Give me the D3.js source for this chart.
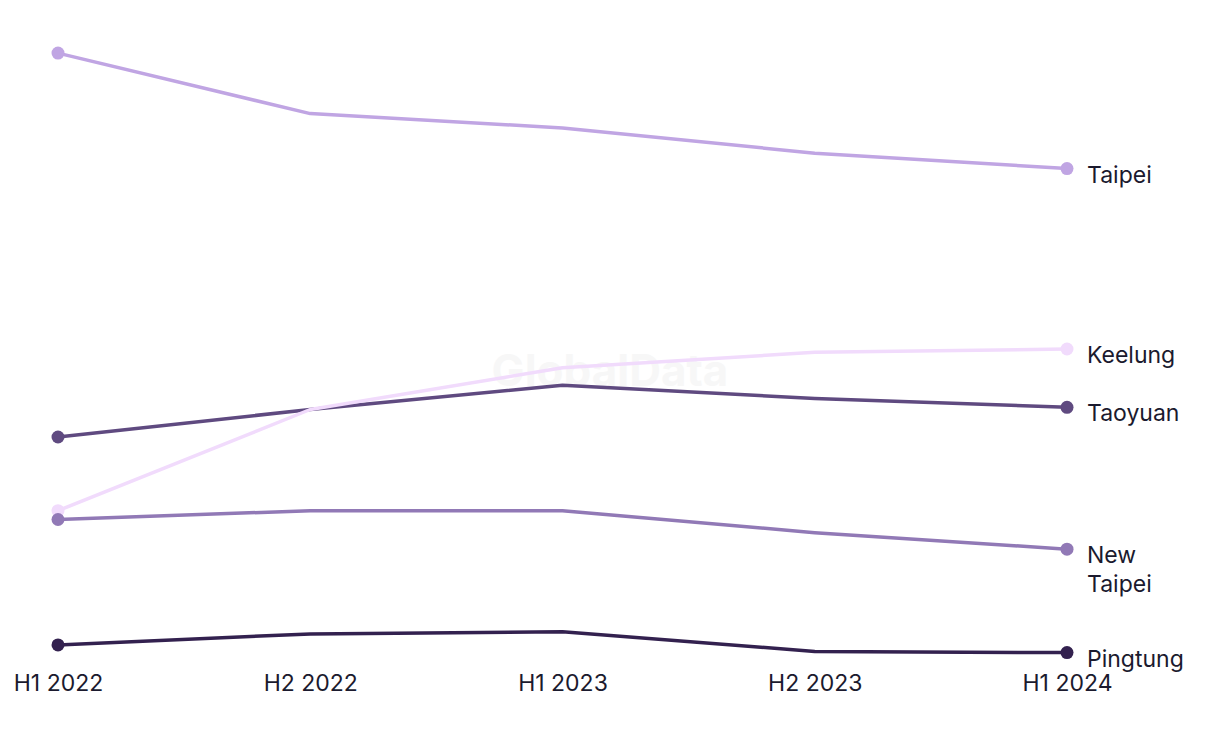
<html>
<script src="https://d3js.org/d3.v7.min.js"></script>
<style>
  body { margin: 0; background: #fff; }
  .lbl { font-family: Inter, "Noto Sans", sans-serif; font-size: 23px; fill: #1b1a2e; }
</style>
<body>
<svg id="chart" width="1220" height="744"></svg>
<script>
var periods = ["H1 2022", "H2 2022", "H1 2023", "H2 2023", "H1 2024"];
var taipei    = [57.9, 52.4, 51.1, 48.8, 47.4];
var keelung   = [16.3, 25.5, 29.3, 30.7, 31.0];
var taoyuan   = [23.0, 25.5, 27.7, 26.5, 25.7];
var newTaipei = [15.5, 16.3, 16.3, 14.3, 12.8];
var pingtung  = [4.1, 5.1, 5.3, 3.5, 3.4];

var series = [
  {name: ["Taipei"], values: taipei, color: "#c0a5e3"},
  {name: ["Taoyuan"], values: taoyuan, color: "#5f4a80"},
  {name: ["Keelung"], values: keelung, color: "#f1dbfc"},
  {name: ["New", "Taipei"], values: newTaipei, color: "#9179b6"},
  {name: ["Pingtung"], values: pingtung, color: "#33214f"}
];

var svg = d3.select("#chart");

var x = d3.scalePoint().domain(periods).range([58, 1067]);
var y = d3.scaleLinear().domain([0, 60]).range([690, 30]);

// watermark
svg.append("text")
  .attr("x", 610).attr("y", 386)
  .attr("text-anchor", "middle")
  .style("font-family", "Inter, sans-serif")
  .style("font-weight", "bold")
  .style("font-size", "44px")
  .style("fill", "#f7f7f7")
  .text("GlobalData");

var line = d3.line()
  .x(function(d, i) { return x(periods[i]); })
  .y(function(d) { return y(d); });

var g = svg.selectAll(".series")
  .data(series)
  .enter().append("g")
  .attr("class", "series");

g.append("path")
  .attr("d", function(d) { return line(d.values); })
  .attr("fill", "none")
  .attr("stroke", function(d) { return d.color; })
  .attr("stroke-width", 3.5)
  .attr("stroke-linejoin", "round");

g.selectAll("circle")
  .data(function(d) { return [0, 4].map(function(i) { return {v: d.values[i], i: i, c: d.color}; }); })
  .enter().append("circle")
  .attr("cx", function(d) { return x(periods[d.i]); })
  .attr("cy", function(d) { return y(d.v); })
  .attr("r", 6.5)
  .attr("fill", function(d) { return d.c; });

// end labels
g.append("text")
  .attr("class", "lbl")
  .attr("x", x(periods[4]) + 20)
  .attr("y", function(d) { return y(d.values[4]) + 14; })
  .selectAll("tspan")
  .data(function(d) { return d.name; })
  .enter().append("tspan")
  .attr("x", x(periods[4]) + 20)
  .attr("dy", function(d, i) { return i == 0 ? 0 : 29; })
  .text(function(d) { return d; });

// x axis labels
var xAxis = d3.axisBottom(x).tickSize(0).tickPadding(0);
var ax = svg.append("g")
  .attr("transform", "translate(0,675)")
  .call(xAxis);
ax.select(".domain").remove();
ax.selectAll("text")
  .attr("class", "lbl")
  .attr("dy", "0.71em")
  .style("font-size", null)
  .style("font-family", null);
</script>
</body>
</html>
